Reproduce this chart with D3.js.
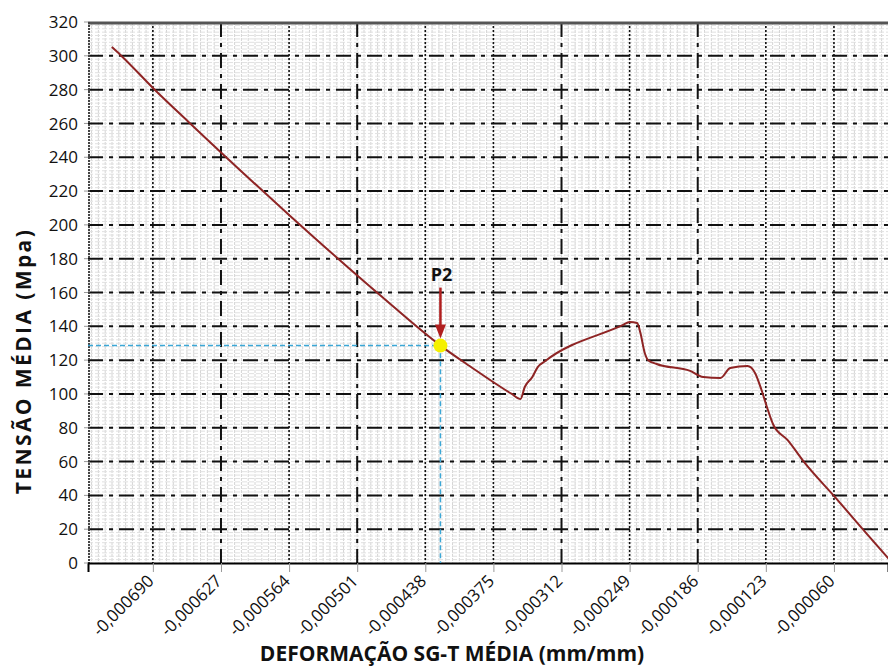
<!DOCTYPE html>
<html>
<head>
<meta charset="utf-8">
<script src="https://cdn.jsdelivr.net/npm/d3@7"></script>
<style>
    body { margin: 0; background: #fff; }
    #chart-area { width: 888px; height: 668px; }
    text { font-family: "Open Sans", "Noto Sans", sans-serif; fill: #111; }
</style>
</head>
<body>
<div id="chart-area"></div>
<script>

// strain (mm/mm) and mean stress (MPa)
const strain = [-0.000728, -0.000720, -0.000689, -0.000656, -0.000563, -0.000480, -0.000424, -0.000397,
    -0.000358, -0.000350, -0.000346, -0.000339, -0.000334, -0.000327, -0.000255, -0.000249, -0.000242,
    -0.000239, -0.000235, -0.000232, -0.000224, -0.000193, -0.000181, -0.000165, -0.000156, -0.000140,
    -0.000133, -0.000127, -0.000122, -0.000116, -0.000103, -0.000087, -0.000059, -0.000031, -0.000008];
const stress = [305.2, 300.5, 280.4, 260.3, 205.3, 158.5, 128.6, 116.5,
    100.0, 97.0, 104.1, 110.0, 115.9, 119.5, 140.8, 142.6, 142.0,
    136.0, 124.2, 120.1, 117.7, 113.6, 110.0, 109.4, 115.3, 116.5,
    112.4, 102.3, 92.3, 81.6, 72.8, 59.2, 39.0, 18.3, 1.5];

const xTicks = [-0.000690, -0.000627, -0.000564, -0.000501, -0.000438, -0.000375,
    -0.000312, -0.000249, -0.000186, -0.000123, -0.000060];
const yTicks = [0, 20, 40, 60, 80, 100, 120, 140, 160, 180, 200, 220, 240, 260, 280, 300, 320];

// highlighted point
const markerLabel = "P2";
const markerStrain = -0.000424;
const markerStress = 128.6;

class StressChart {

    constructor(parentElement) {
        this.parentElement = parentElement;
        this.initVis();
    }

    initVis() {
        let vis = this;

        vis.margin = {top: 22, right: 0, bottom: 105, left: 88};
        vis.width = 888 - vis.margin.left - vis.margin.right;
        vis.height = 668 - vis.margin.top - vis.margin.bottom;

        vis.svg = d3.select("#" + vis.parentElement).append("svg")
            .attr("width", 888)
            .attr("height", 668)
            .append("g")
            .attr("transform", "translate(" + vis.margin.left + "," + vis.margin.top + ")");

        vis.x = d3.scaleLinear().domain([-0.00075, -0.00001]).range([0, vis.width]);
        vis.y = d3.scaleLinear().domain([0, 320]).range([vis.height, 0]);

        vis.locale = d3.formatLocale({decimal: ",", thousands: ".", grouping: [3], currency: ["", ""], minus: "-"});

        vis.svg.append("clipPath").attr("id", "plot-clip")
            .append("rect").attr("width", vis.width).attr("height", vis.height);

        vis.updateVis();
    }

    updateVis() {
        let vis = this;

        let grid = vis.svg.append("g").attr("clip-path", "url(#plot-clip)");

        // minor grid
        let xStep = 0.000063 / 10;
        let xMinor = d3.range(-0.000690 - 20 * xStep, -0.00001, xStep);
        grid.selectAll(".minor-x").data(xMinor).enter().append("line")
            .attr("x1", d => vis.x(d)).attr("x2", d => vis.x(d))
            .attr("y1", 0).attr("y2", vis.height)
            .attr("stroke", "#d4d4d4").attr("stroke-width", 1)
            .attr("stroke-dasharray", "3,1");

        let yMinor = d3.range(0, 320, 2);
        grid.selectAll(".minor-y").data(yMinor).enter().append("line")
            .attr("x1", 0).attr("x2", vis.width)
            .attr("y1", d => vis.y(d)).attr("y2", d => vis.y(d))
            .attr("stroke", "#e0e0e0").attr("stroke-width", 1)
            .attr("stroke-dasharray", "5,2");

        // major grid
        grid.selectAll(".major-y").data(yTicks.slice(1, -1)).enter().append("line")
            .attr("x1", 0).attr("x2", vis.width)
            .attr("y1", d => vis.y(d)).attr("y2", d => vis.y(d))
            .attr("stroke", "#111").attr("stroke-width", 2)
            .attr("stroke-dasharray", "15,6,4,6");

        let heavy = [1, 3, 6, 8];
        grid.selectAll(".major-x").data(xTicks).enter().append("line")
            .attr("x1", d => vis.x(d)).attr("x2", d => vis.x(d))
            .attr("y1", 0).attr("y2", vis.height)
            .attr("stroke", "#111")
            .attr("stroke-width", (d, i) => heavy.includes(i) ? 2 : 1.6)
            .attr("stroke-dasharray", (d, i) => heavy.includes(i) ? "15,6,4,6" : "2,2");

        // frame
        vis.svg.append("line")
            .attr("x1", 0).attr("x2", vis.width).attr("y1", 1).attr("y2", 1)
            .attr("stroke", "#555").attr("stroke-width", 3);
        vis.svg.append("line")
            .attr("x1", 1).attr("x2", 1).attr("y1", 0).attr("y2", vis.height)
            .attr("stroke", "#444").attr("stroke-width", 2).attr("stroke-dasharray", "2,1");

        // axes
        vis.svg.append("g")
            .attr("transform", "translate(0," + vis.height + ")")
            .call(d3.axisBottom(vis.x).tickValues(xTicks).tickSize(9).tickFormat(() => ""))
            .call(g => g.select(".domain").attr("stroke", "#000").attr("stroke-width", 2))
            .call(g => g.selectAll(".tick line").attr("stroke", "#999"));

        vis.svg.selectAll(".x-label").data(xTicks).enter().append("text")
            .attr("transform", d => "translate(" + (vis.x(d) + 2) + "," + (vis.height + 19) + ") rotate(-45)")
            .attr("text-anchor", "end")
            .style("font-size", "17px")
            .text(d => vis.locale.format(".6f")(d));

        vis.svg.selectAll(".y-label").data(yTicks).enter().append("text")
            .attr("x", -10)
            .attr("y", d => vis.y(d))
            .attr("dy", "0.36em")
            .attr("text-anchor", "end")
            .style("font-size", "17px")
            .text(d => d);

        vis.svg.selectAll(".y-tick").data(yTicks).enter().append("line")
            .attr("x1", -4).attr("x2", 0)
            .attr("y1", d => vis.y(d)).attr("y2", d => vis.y(d))
            .attr("stroke", "#999");

        // axis titles
        vis.svg.append("text")
            .attr("x", 452 - vis.margin.left)
            .attr("y", vis.height + 98)
            .attr("text-anchor", "middle")
            .style("font-size", "21px").style("font-weight", "bold")
            .text("DEFORMAÇÃO SG-T MÉDIA (mm/mm)");

        vis.svg.append("text")
            .attr("transform", "translate(" + (31 - vis.margin.left) + "," + (361 - vis.margin.top) + ") rotate(-90)")
            .attr("text-anchor", "middle")
            .style("font-size", "21px").style("font-weight", "bold")
            .style("letter-spacing", "2.4px")
            .text("TENSÃO MÉDIA (Mpa)");

        // guide lines to P2
        let px = vis.x(markerStrain), py = vis.y(markerStress);
        vis.svg.append("path")
            .attr("d", "M0," + py + "H" + px + "V" + vis.height)
            .attr("fill", "none")
            .attr("stroke", "#3ba7d6").attr("stroke-width", 1.5)
            .attr("stroke-dasharray", "5,3");

        // curve
        let line = d3.line()
            .x((d, i) => vis.x(strain[i]))
            .y((d, i) => vis.y(stress[i]))
            .curve(d3.curveMonotoneX);

        vis.svg.append("path")
            .datum(stress)
            .attr("clip-path", "url(#plot-clip)")
            .attr("d", line)
            .attr("fill", "none")
            .attr("stroke", "#8e2424")
            .attr("stroke-width", 2);

        // P2 marker
        vis.svg.append("circle")
            .attr("cx", px).attr("cy", py).attr("r", 7)
            .attr("fill", "#f5f000");

        vis.svg.append("line")
            .attr("x1", px).attr("x2", px)
            .attr("y1", py - 58).attr("y2", py - 20)
            .attr("stroke", "#b01e1e").attr("stroke-width", 2.5);
        vis.svg.append("path")
            .attr("d", "M" + (px - 5.5) + "," + (py - 21) + "L" + (px + 5.5) + "," + (py - 21) + "L" + px + "," + (py - 7) + "Z")
            .attr("fill", "#b01e1e");

        vis.svg.append("text")
            .attr("x", px + 1).attr("y", py - 65)
            .attr("text-anchor", "middle")
            .style("font-size", "18px").style("font-weight", "bold")
            .text(markerLabel);
    }
}

let chart = new StressChart("chart-area");

</script>
</body>
</html>
